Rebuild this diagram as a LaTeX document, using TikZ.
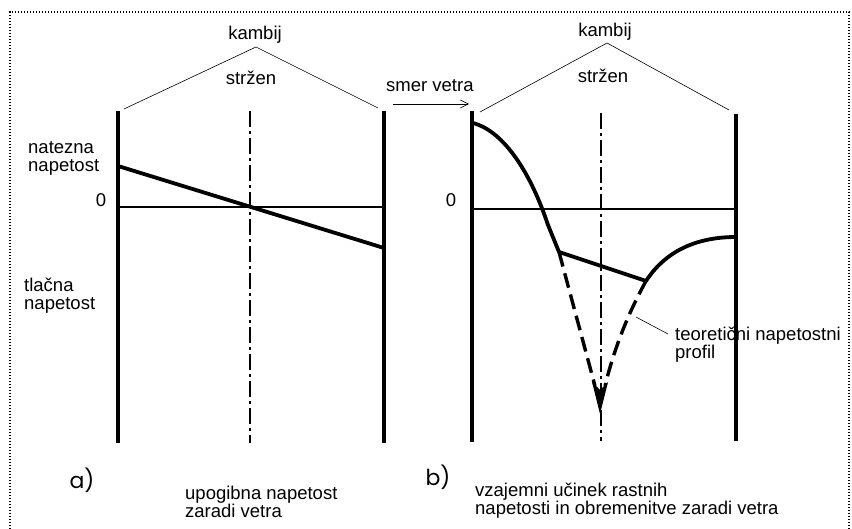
\documentclass[tikz,border=0pt]{standalone}
\usepackage{fontspec}
\setmainfont{Liberation Sans}
\newfontfamily\tagfont{Poppins}
\usetikzlibrary{arrows.meta}
\begin{document}
\begin{tikzpicture}[x=1pt,y=-1pt,
  wall/.style={line width=3.2pt},
  pith/.style={line width=2.8pt, dash pattern=on 16pt off 4pt on 3pt off 4pt},
  roof/.style={line width=0.6pt},
  zero/.style={line width=2pt},
  profile/.style={line width=3.8pt, line join=round},
  theory/.style={line width=3.4pt, dash pattern=on 15pt off 7pt},
  frame/.style={line width=1.3pt, dash pattern=on 1.3pt off 1.7pt},
  txt/.style={font=\fontsize{18.5}{18}\selectfont, inner sep=0pt, align=left},
  tag/.style={font=\tagfont\fontsize{22}{22}\selectfont, inner sep=0pt}]
\useasboundingbox (0,0) rectangle (852,529);

% dotted border
\draw[frame] (10,529) -- (10,12) -- (849,12) -- (849,529);

% ---------- a) bending stress ----------
\coordinate (aLt) at (118,111); \coordinate (aLb) at (118,443);
\coordinate (aMt) at (250,111); \coordinate (aMb) at (250,443);
\coordinate (aRt) at (384,111); \coordinate (aRb) at (384,443);
\coordinate (aZl) at (118,207); \coordinate (aZr) at (384,207);
\coordinate (aSl) at (118,166); \coordinate (aSr) at (384,248);
\coordinate (aApex) at (256,47);
\coordinate (aRoofL) at (124,109); \coordinate (aRoofR) at (378,108);

\draw[wall] (aLt) -- (aLb);
\draw[wall] (aRt) -- (aRb);
\draw[pith] (aMt) -- (aMb);
\draw[zero] (aZl) -- (aZr);
\draw[profile] (aSl) -- (aSr);
\draw[roof] (aRoofL) -- (aApex) -- (aRoofR);

\node[txt, anchor=base] (aKambij) at (255,40) {kambij};
\node[txt, anchor=base] (aStrzen) at (251,85) {stržen};
\node[txt, anchor=base] (aZero) at (101,207) {0};
\node[txt, anchor=base west] (tens) at (28,172) {natezna\\napetost};
\node[txt, anchor=base west] (comp) at (24,310) {tlačna\\napetost};
\node[tag] (aTag) at (82,480) {a)};
\node[txt, anchor=base west] (aCap) at (185,517) {upogibna napetost\\zaradi vetra};

% wind direction
\node[txt, anchor=base west] (wind) at (386,92) {smer vetra};
\coordinate (wS) at (393,104); \coordinate (wE) at (469,104);
\draw[roof, -{Straight Barb[length=8pt,width=8pt]}] (wS) -- (wE);

% ---------- b) growth stress + wind load ----------
\coordinate (bLt) at (472,111); \coordinate (bLb) at (472,442);
\coordinate (bMt) at (601,113); \coordinate (bMb) at (601,441);
\coordinate (bRt) at (736,114); \coordinate (bRb) at (736,441);
\coordinate (bZl) at (472,209); \coordinate (bZr) at (736,209);
\coordinate (bApex) at (607,43);
\coordinate (bRoofL) at (480,112); \coordinate (bRoofR) at (729,110);

\draw[wall] (bLt) -- (bLb);
\draw[wall] (bRt) -- (bRb);
\draw[pith] (bMt) -- (bMb);
\draw[zero] (bZl) -- (bZr);
\draw[roof] (bRoofL) -- (bApex) -- (bRoofR);

\coordinate (p0) at (473,123);
\coordinate (k1) at (559,252);
\coordinate (k2) at (646,281);
\coordinate (p3) at (736,237);
\draw[profile] (p0) .. controls (500,130) and (528,165) .. (548,225) -- (k1) -- (k2)
  .. controls (665,252) and (695,237) .. (p3);

% theoretical profile
\coordinate (tip) at (600,414);
\draw[theory] (k1) -- (595,386);
\draw[theory] (k2) .. controls (630,310) and (615,345) .. (605,386);
\fill (592,382) -- (tip) -- (608,382) -- (600,390) -- cycle;

\node[txt, anchor=base west] (theo) at (675,359) {teoretični napetostni\\profil};
\coordinate (lead) at (636,317);
\draw[roof] (lead) -- (668,334);

\node[txt, anchor=base] (bKambij) at (605,37) {kambij};
\node[txt, anchor=base] (bStrzen) at (603,83) {stržen};
\node[txt, anchor=base] (bZero) at (451,207) {0};
\node[tag] (bTag) at (438,477) {b)};
\node[txt, anchor=base west] (bCap) at (475,514) {vzajemni učinek rastnih\\napetosti in obremenitve zaradi vetra};
\end{tikzpicture}
\end{document}
